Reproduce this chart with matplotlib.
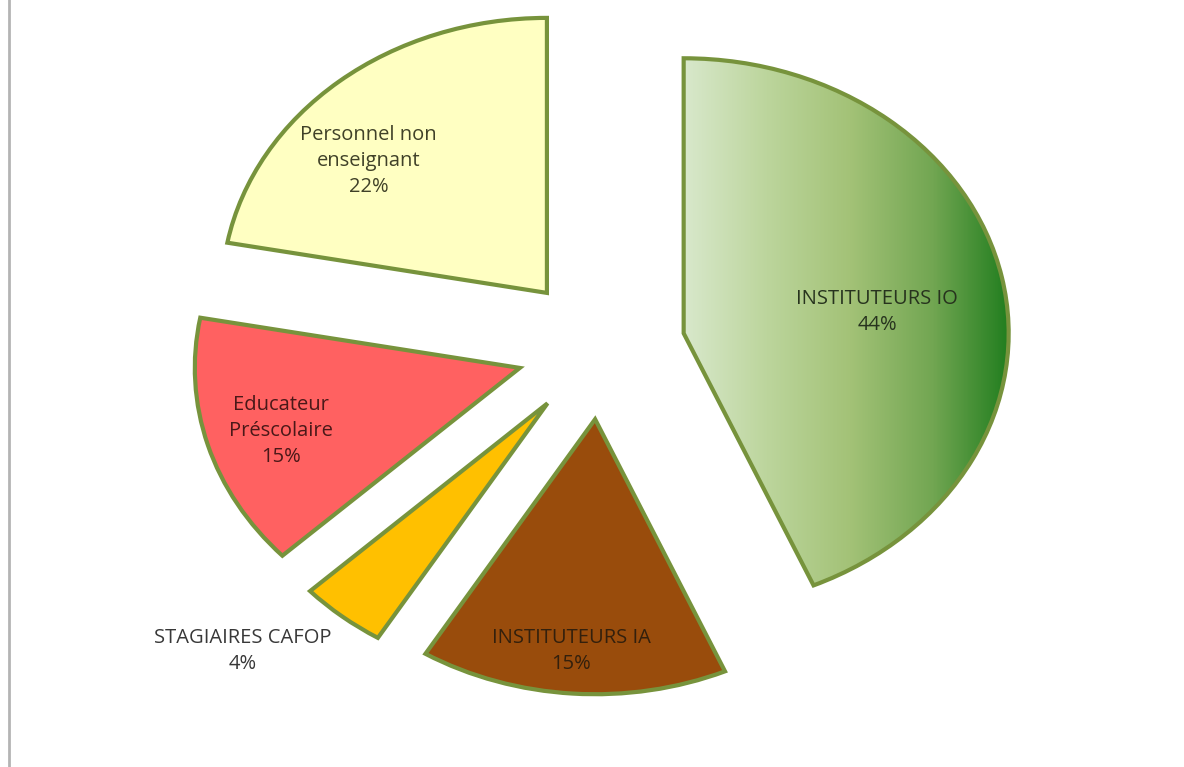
"""Exploded pie: répartition du personnel (IO / IA / CAFOP / préscolaire / non enseignant)."""
import matplotlib
matplotlib.use("Agg")
import matplotlib.pyplot as plt
import numpy as np
from matplotlib.colors import LinearSegmentedColormap
from matplotlib.lines import Line2D

plt.rcParams["font.family"] = ["Open Sans", "DejaVu Sans"]

labels = ["INSTITUTEURS IO", "INSTITUTEURS IA", "STAGIAIRES CAFOP",
          "Educateur\nPréscolaire", "Personnel non\nenseignant"]
values = [43.5, 15.3, 4.3, 14.9, 22.1]
colors = ["#a9c47e", "#994c0c", "#ffc000", "#ff6161", "#ffffc2"]
text_colors = ["#27331e", "#33200d", "#383838", "#4a1818", "#404128"]
# label placement: distance from the exploded slice centre, angle tweak (deg)
label_dist = [0.60, 0.845, 1.30, 0.77, 0.73]
label_dang = [-4.5, -1, -7, 1, 9]

EDGE = "#77933c"

fig = plt.figure(figsize=(11.84, 7.67), dpi=100)
ax = fig.add_axes([0, 0, 1, 1])

wedges, _ = ax.pie(values, explode=[0.26] * len(values), startangle=90,
                   counterclock=False, colors=colors, radius=1,
                   wedgeprops=dict(edgecolor=EDGE, linewidth=3.0))

# horizontal gradient fill for the big green slice
io = wedges[0]
grad = LinearSegmentedColormap.from_list(
    "io", ["#d8e8cb", "#bcd59c", "#a3c277", "#72a652", "#1a7a1a"])
io.set_facecolor("none")
x0, y0 = io.center
im = ax.imshow(np.linspace(0, 1, 256)[None, :], cmap=grad, aspect="auto",
               extent=(x0, x0 + 1.02, y0 - 1.02, y0 + 1.02), zorder=io.get_zorder() - 0.1)
im.set_clip_path(io)

for w, lab, v, tc, d, da in zip(wedges, labels, values, text_colors, label_dist, label_dang):
    ang = np.deg2rad((w.theta1 + w.theta2) / 2 + da)
    cx, cy = w.center
    ax.text(cx + d * np.cos(ang), cy + d * np.sin(ang), f"{lab}\n{v:.0f}%",
            ha="center", va="center", fontsize=14.5, color=tc, linespacing=1.4)

ax.set_aspect("auto")
ax.set_xlim(-1.849, 1.794)
ax.set_ylim(-1.524, 1.265)
ax.axis("off")

fig.add_artist(Line2D([0.0078, 0.0078], [0, 1], transform=fig.transFigure,
                      color="#b4b4b4", lw=2))

fig.savefig("out.png", dpi=100)
